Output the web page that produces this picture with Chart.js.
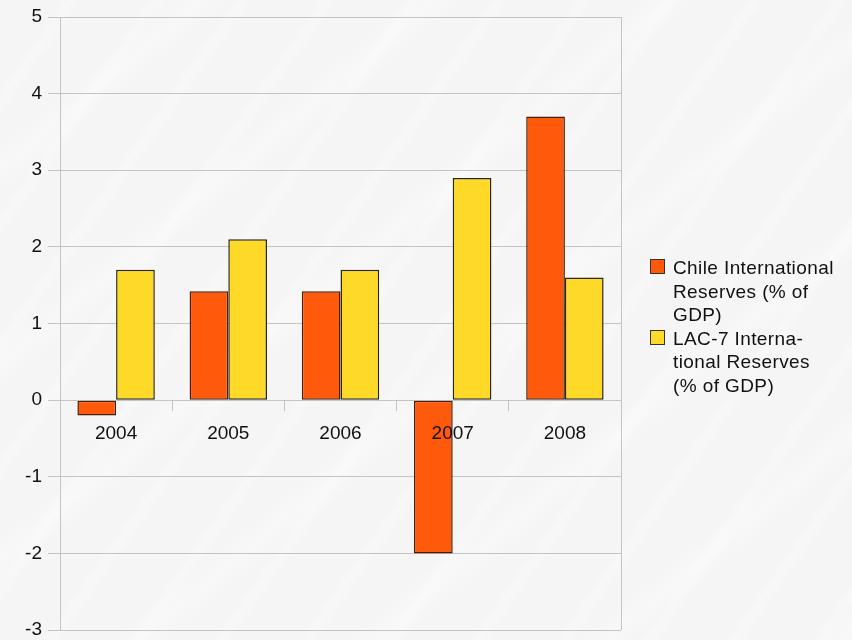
<!DOCTYPE html>
<html>
<head>
<meta charset="utf-8">
<script src="https://cdn.jsdelivr.net/npm/chart.js@4/dist/chart.umd.min.js"></script>
<style>
  html, body { margin: 0; padding: 0; }
  body {
    width: 852px; height: 640px; overflow: hidden; position: relative;
    background-color: #f5f5f5;
    background-image:
      repeating-linear-gradient(125deg, rgba(255,255,255,0) 0px, rgba(255,255,255,0) 50px, rgba(255,255,255,0.3) 58px, rgba(255,255,255,0) 70px),
      repeating-linear-gradient(140deg, rgba(255,255,255,0) 0px, rgba(255,255,255,0) 110px, rgba(255,255,255,0.3) 130px, rgba(255,255,255,0) 150px);
  }
  #wrap { position: absolute; left: 0; top: 0; width: 852px; height: 640px; }
  #legend {
    position: absolute; left: 650px; top: 256px;
    font-family: "Liberation Sans", Arial, sans-serif; font-size: 19px;
    letter-spacing: 0.4px; color: #111;
  }
  .item { position: relative; padding-left: 23px; line-height: 23.5px; }
  .box { position: absolute; left: 0; top: 3px; width: 15px; height: 15px; box-sizing: border-box; border: 1px solid #333; }
</style>
</head>
<body>
<div id="wrap"><canvas id="myChart" width="852" height="640"></canvas></div>
<div id="legend"></div>
<script>
let years = ['2004', '2005', '2006', '2007', '2008'];
let chileReserves = [-0.2, 1.42, 1.42, -2.0, 3.7];
let lacReserves = [1.7, 2.1, 1.7, 2.9, 1.6];
let seriesNames = ['Chile International Reserves (% of GDP)', 'LAC-7 International Reserves (% of GDP)'];
// wrapped legend lines, as laid out in the legend column
let legendLines = [
    ['Chile International', 'Reserves (% of', 'GDP)'],
    ['LAC-7 Interna-', 'tional Reserves', '(% of GDP)']
];

let font = { family: '"Liberation Sans", Arial, sans-serif', size: 19 };

// outline on the right edge of the plot
let rightEdge = {
    id: 'rightEdge',
    afterDraw(chart) {
        let a = chart.chartArea, c = chart.ctx;
        c.save();
        c.strokeStyle = '#c4c4c4';
        c.lineWidth = 1;
        c.beginPath();
        c.moveTo(Math.round(a.right) + 0.5, a.top);
        c.lineTo(Math.round(a.right) + 0.5, a.bottom);
        c.stroke();
        c.restore();
    }
};

let ctx = document.getElementById('myChart').getContext('2d');
let myChart = new Chart(ctx, {
    type: 'bar',
    data: {
        labels: years,
        datasets: [{
            label: seriesNames[0],
            data: chileReserves,
            backgroundColor: '#ff5a0c',
            borderColor: '#4a1d06',
            borderWidth: 1.5,
            borderSkipped: false
        }, {
            label: seriesNames[1],
            data: lacReserves,
            backgroundColor: '#ffd928',
            borderColor: '#2a2610',
            borderWidth: 1.5,
            borderSkipped: false
        }]
    },
    options: {
        responsive: false,
        animation: false,
        layout: { padding: { left: 0, right: 231, top: 17, bottom: 10 } },
        plugins: {
            legend: { display: false },
            tooltip: { enabled: false }
        },
        datasets: { bar: { categoryPercentage: 0.69, barPercentage: 1.0 } },
        scales: {
            x: {
                position: { y: 0 },
                grid: { display: true, drawOnChartArea: false, offset: true, color: '#c4c4c4', tickLength: 10 },
                border: { display: true, color: '#c4c4c4' },
                // year labels sit on top of the bars
                ticks: { z: 1, color: '#111', font: font, padding: 12, maxRotation: 0 }
            },
            y: {
                min: -3,
                max: 5,
                afterFit: s => {
                    s.width = 60;
                    s.paddingTop = 0;
                    s.paddingBottom = 0;
                },
                grid: { color: '#c4c4c4', tickLength: 12 },
                border: { display: true, color: '#c4c4c4' },
                ticks: { stepSize: 1, color: '#111', font: font, padding: 6 }
            }
        }
    },
    plugins: [rightEdge]
});

// legend built from the chart's own datasets
let legendEl = document.getElementById('legend');
myChart.data.datasets.forEach((ds, i) => {
    let item = document.createElement('div');
    item.className = 'item';
    let box = document.createElement('span');
    box.className = 'box';
    box.style.background = ds.backgroundColor;
    item.appendChild(box);
    let text = document.createElement('div');
    text.innerHTML = legendLines[i].join('<br>');
    item.appendChild(text);
    legendEl.appendChild(item);
});
</script>
</body>
</html>
